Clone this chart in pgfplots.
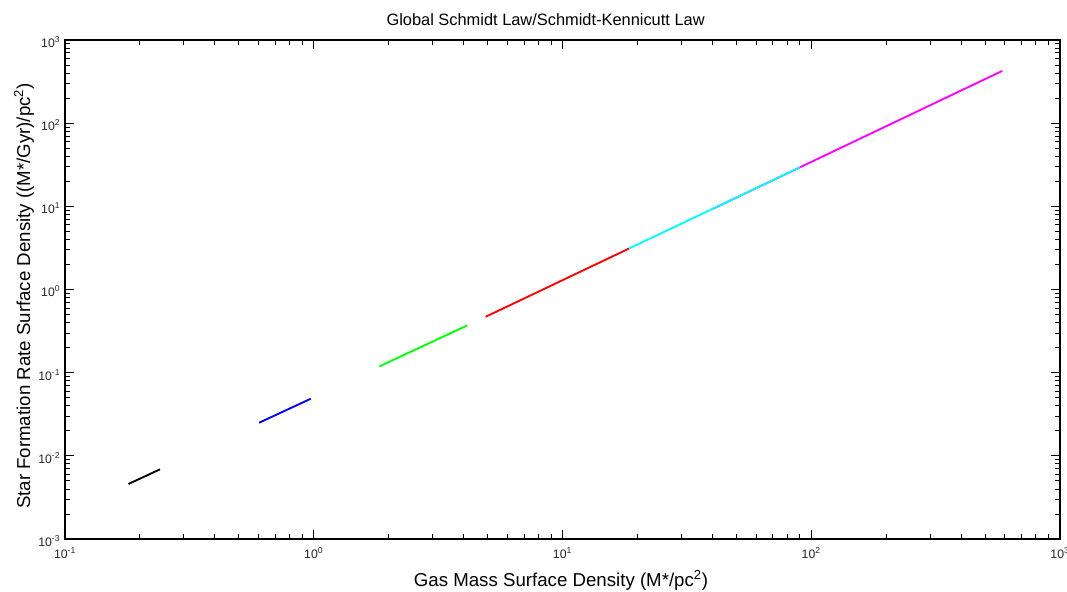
\documentclass[border=0pt]{standalone}
\usepackage{fontspec}
\setmainfont{Liberation Sans}
\usepackage{pgfplots}
\pgfplotsset{compat=1.18}

% star formation law, one segment per galaxy sample
\pgfplotstableread{
x y
0.180 0.00459
0.241 0.00688
}\segA
\pgfplotstableread{
x y
0.603 0.0250
0.973 0.0486
}\segB
\pgfplotstableread{
x y
1.835 0.119
4.144 0.370
}\segC
\pgfplotstableread{
x y
4.91 0.470
18.56 3.12
}\segD
\pgfplotstableread{
x y
40.0 9.26
586.0 425.0
}\segF
\pgfplotstableread{
x y
18.56 3.12
90.0 29.4
}\segE

\definecolor{mlgreen}{RGB}{0,255,0}
\definecolor{mlcyan}{RGB}{0,255,255}
\definecolor{mlmagenta}{RGB}{255,0,255}

\begin{document}
\begin{tikzpicture}
\begin{axis}[
  xmode=log, ymode=log,
  scale only axis,
  width=746.25pt, height=374.25pt,
  xmin=0.1, xmax=1000, ymin=0.001, ymax=1000,
  axis line style={line width=1pt},
  tick align=inside,
  tick style={black, line width=0.6pt},
  major tick length=7pt, minor tick length=4pt,
  xtick={0.1,1,10,100,1000},
  xticklabels={10\textsuperscript{-1},10\textsuperscript{0},10\textsuperscript{1},10\textsuperscript{2},10\textsuperscript{3}},
  ytick={0.001,0.01,0.1,1,10,100,1000},
  yticklabels={10\textsuperscript{-3},10\textsuperscript{-2},10\textsuperscript{-1},10\textsuperscript{0},10\textsuperscript{1},10\textsuperscript{2},10\textsuperscript{3}},
  minor xtick={0.2,0.3,0.4,0.5,0.6,0.7,0.8,0.9,2,3,4,5,6,7,8,9,20,30,40,50,60,70,80,90,200,300,400,500,600,700,800,900},
  minor ytick={0.002,0.003,0.004,0.005,0.006,0.007,0.008,0.009,0.02,0.03,0.04,0.05,0.06,0.07,0.08,0.09,0.2,0.3,0.4,0.5,0.6,0.7,0.8,0.9,2,3,4,5,6,7,8,9,20,30,40,50,60,70,80,90,200,300,400,500,600,700,800,900},
  tick label style={font=\fontsize{9.2}{10}\selectfont, text=black!85},
  xticklabel style={yshift=-3pt},
  yticklabel style={xshift=0pt, yshift=-1.5pt},
  title={Global Schmidt Law/Schmidt-Kennicutt Law},
  title style={font=\fontsize{12.3}{14}\selectfont, at={(axis description cs:0.483,1.024)}, anchor=center},
  xlabel={Gas Mass Surface Density (M*/pc\textsuperscript{2})},
  xlabel style={font=\fontsize{14}{16}\selectfont, at={(axis description cs:0.4985,-0.0822)}, anchor=center},
  ylabel={Star Formation Rate Surface Density ((M*/Gyr)/pc\textsuperscript{2})},
  ylabel style={font=\fontsize{14}{16}\selectfont, at={(axis description cs:-0.0412,0.487)}, anchor=center, rotate=0},
]
\addplot[black, line width=1.4pt] table {\segA};
\addplot[blue, line width=1.4pt] table {\segB};
\addplot[mlgreen, line width=1.4pt] table {\segC};
\addplot[red, line width=1.4pt] table {\segD};
\addplot[mlmagenta, line width=1.4pt] table {\segF};
\addplot[mlcyan, line width=1.4pt] table {\segE};
\end{axis}
\pgfresetboundingbox
\useasboundingbox (-48.75pt,-39.75pt) rectangle (751.5pt,404.25pt);
\end{tikzpicture}
\end{document}
